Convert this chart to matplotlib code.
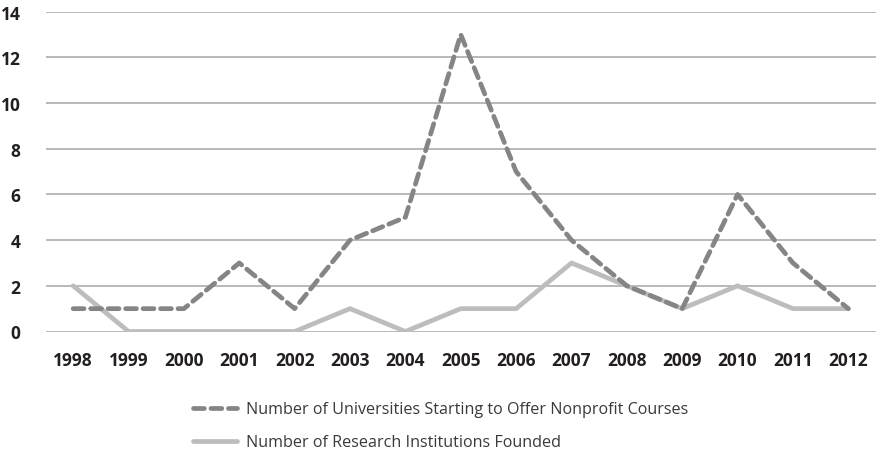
import matplotlib
matplotlib.use("Agg")
import matplotlib.pyplot as plt

years = ["1998", "1999", "2000", "2001", "2002", "2003", "2004", "2005",
         "2006", "2007", "2008", "2009", "2010", "2011", "2012"]
universities = [1, 1, 1, 3, 1, 4, 5, 13, 7, 4, 2, 1, 6, 3, 1]
institutions = [2, 0, 0, 0, 0, 1, 0, 1, 1, 3, 2, 1, 2, 1, 1]
yticks = [0, 2, 4, 6, 8, 10, 12, 14]

plt.rcParams['font.family'] = ['Open Sans', 'DejaVu Sans']

W, H = 877, 456
fig = plt.figure(figsize=(W / 100, H / 100), dpi=100)
left, right, top, bottom = 45.5, 876, 12.7, 332.5
ax = fig.add_axes([left / W, 1 - bottom / H, (right - left) / W, (bottom - top) / H])

x = list(range(len(years)))
l1, = ax.plot(x, universities, color='#858585', lw=3.4, ls=(0, (2.3, 1.4)),
              dash_capstyle='round', solid_capstyle='round',
              label='Number of Universities Starting to Offer Nonprofit Courses', zorder=3)
l2, = ax.plot(x, institutions, color='#bdbdbd', lw=3.4, solid_capstyle='round',
              label='Number of Research Institutions Founded', zorder=2)

ax.set_xlim(-0.5, len(years) - 0.5)
ax.set_ylim(0, 14)
ax.set_yticks(yticks)
ax.set_yticklabels([str(v) for v in yticks], fontsize=12.5, fontweight='bold', color='#231f20')
ax.set_xticks(x)
ax.set_xticklabels(years, fontsize=12.5, fontweight='bold', color='#231f20')
ax.tick_params(axis='both', length=0)
ax.tick_params(axis='y', pad=18)
ax.tick_params(axis='x', pad=14)
ax.grid(axis='y', color='#b3b3b3', lw=1.3)
ax.set_axisbelow(True)
for s in ax.spines.values():
    s.set_visible(False)

leg = fig.legend(handles=[l1, l2], loc='upper left',
                 bbox_to_anchor=(178 / W, 1 - 388 / H), frameon=False,
                 fontsize=11.6, handlelength=2.75, handletextpad=0.55,
                 labelspacing=1.05, labelcolor='#3a3a3a')

fig.savefig('out.png', dpi=100)
